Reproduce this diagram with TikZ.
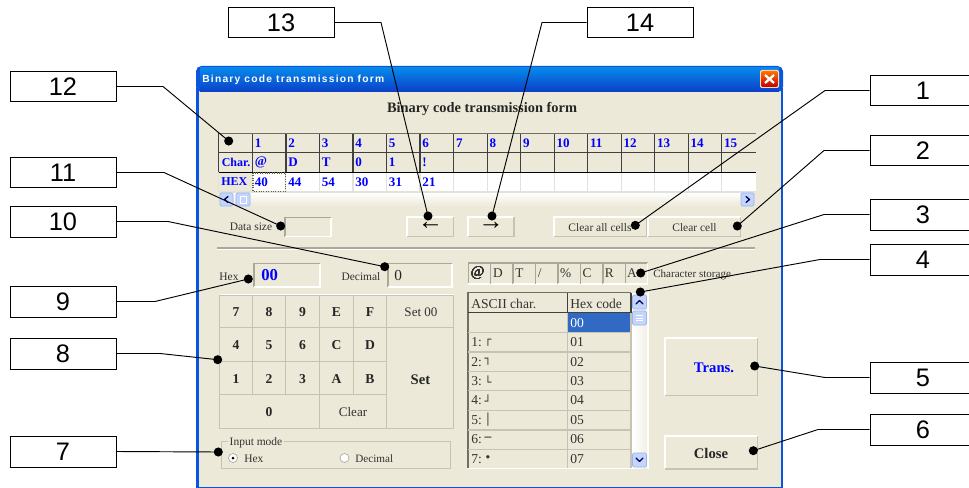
\documentclass[tikz,border=0pt]{standalone}
\usepackage{fontspec}
\setmainfont{Liberation Serif}
\newfontfamily\calloutfont{Liberation Sans}
\newfontfamily\symfont{DejaVu Sans}
\usetikzlibrary{calc}
\definecolor{winbg}{HTML}{ECE9D8}
\definecolor{xpblue}{HTML}{0A55E0}
\definecolor{xpdark}{HTML}{0A3FC8}
\definecolor{edgegray}{HTML}{ACA899}
\definecolor{softgray}{HTML}{C6C3B4}
\definecolor{celllight}{HTML}{E2E1DA}
\definecolor{darkedge}{HTML}{716F64}
\definecolor{selblue}{HTML}{316AC5}
\definecolor{scrollblue}{HTML}{C3D5FD}
\definecolor{scrolledge}{HTML}{9DB5E8}
\definecolor{linkblue}{HTML}{0000FF}
\tikzset{
  callout/.style={draw=black,line width=0.7pt,fill=white,minimum width=79.5pt,minimum height=23.2pt,inner sep=0pt,font=\calloutfont\fontsize{19}{21}\selectfont},
  pin/.style={circle,fill=black,inner sep=0pt,minimum size=6.8pt},
  lead/.style={draw=black,line width=0.7pt},
  ui/.style={inner sep=0pt,font=\fontsize{8.6}{10}\selectfont,text=black!80},
  uib/.style={inner sep=0pt,font=\bfseries\fontsize{10.2}{11}\selectfont,text=black!85},
  blueb/.style={inner sep=0pt,anchor=west,font=\bfseries\fontsize{9.8}{11}\selectfont,text=linkblue},
  listtext/.style={ui,anchor=west,font=\fontsize{10.2}{12}\selectfont},
  gridline/.style={draw=black!75,line width=0.85pt},
  keyline/.style={draw=softgray,line width=0.7pt},
  chev/.style={draw=black!65!blue,line width=1pt,line cap=round,line join=round},
  scrollbtn/.style={fill=scrollblue,draw=scrolledge,line width=0.5pt,rounded corners=1pt},
}
\newcommand{\sunkenbox}[4]{%
  \draw[edgegray,line width=0.8pt] (#1,#4)--(#1,#2)--(#3,#2);
  \draw[white,line width=0.8pt] (#3,#2)--(#3,#4)--(#1,#4);}
\newcommand{\raisedbox}[4]{%
  \draw[white,line width=0.8pt] (#1,#4)--(#1,#2)--(#3,#2);
  \draw[softgray,line width=0.8pt] (#3,#2)--(#3,#4)--(#1,#4);}
\begin{document}
\begin{tikzpicture}[x=0.75pt,y=-0.75pt]
\useasboundingbox (0,0) rectangle (969,488);
% window
\fill[winbg] (197,90) rectangle (782,488);
\path[fill=xpblue,rounded corners=4pt] (196,92) -- (196,66) -- (783,66) -- (783,92) -- cycle;
\shade[top color=xpblue!70!cyan,bottom color=xpdark] (200,68) rectangle (779,92);
\fill[xpblue] (196,88) rectangle (198.5,488);
\fill[xpblue] (780.5,88) rectangle (783,488);
\fill[xpblue] (196,486.5) rectangle (783,488);
\node[anchor=west,inner sep=0pt,text=white] (wintitle) at (202,80) {\calloutfont\bfseries\fontsize{7.7}{9}\selectfont\addfontfeature{LetterSpace=12}Binary code transmission form};
\fill[white!70!orange,rounded corners=1.5pt] (760,70) rectangle (779,88);
\shade[top color=orange!90!red,bottom color=red!75!black,rounded corners=1.5pt] (761,71) rectangle (778,87);
\draw[white,line width=1.7pt] (765,75)--(774,83) (774,75)--(765,83);
\node[uib,font=\bfseries\fontsize{10.8}{12}\selectfont] (formtitle) at (482,109) {Binary code transmission form};
% grid
\fill[winbg] (219,133.5) rectangle (755.5,172.3);
\fill[white] (219,172.3) rectangle (755.5,192);
\fill[winbg] (219,172.3) rectangle (252.3,192);
\shade[top color=white,bottom color=winbg] (233,192) rectangle (741,207);
\foreach \k in {0,...,15} {
  \draw[celllight,line width=0.8pt] ({218.9+33.52*\k},172.3) -- ({218.9+33.52*\k},192);
  \draw[gridline] ({218.9+33.52*\k},133.5) -- ({218.9+33.52*\k},172.3);
}
\draw[darkedge,line width=1pt] (218.9,133.5) -- (755.7,133.5);
\draw[gridline] (218.9,152.7) -- (755.7,152.7);
\draw[black,line width=0.9pt] (218.9,172.3) -- (755.7,172.3);
\draw[celllight,line width=0.8pt] (218.9,192) -- (755.7,192);
\foreach \t [count=\k from 1] in {1,...,15}
  \node[blueb] (hd\k) at ({218.9+33.52*\k+2.2},143) {\t};
\node[blueb,font=\bfseries\fontsize{9}{11}\selectfont] (rowchar) at (221.5,162.5) {Char.};
\node[blueb,font=\bfseries\fontsize{9}{11}\selectfont] (rowhex) at (221,182) {HEX};
\foreach \t [count=\k from 1] in {@,D,T,0,1,!}
  \node[blueb] (ch\k) at ({218.9+33.52*\k+2.2},162.5) {\t};
\foreach \t [count=\k from 1] in {40,44,54,30,31,21}
  \node[blueb] (hx\k) at ({218.9+33.52*\k+2.2},182) {\t};
\draw[black!70!yellow,densely dotted,line width=0.8pt] (253,173) rectangle (285.2,191.5);
% horizontal scroll
\path[scrollbtn] (220,193) rectangle (233,206);
\path[scrollbtn] (236,193) rectangle (250,206);
\path[scrollbtn] (741,193) rectangle (754,206);
\draw[chev] (228,196.5)--(224.5,199.5)--(228,202.5);
\draw[chev] (746,196.5)--(749.5,199.5)--(746,202.5);
\draw[white,line width=0.5pt] (240,196.5) rectangle (246,203);
% row under grid
\node[ui] (dsl) at (251,227) {Data size};
\sunkenbox{285}{217.5}{331}{236.5}
\raisedbox{407}{217}{453.5}{236.5}
\raisedbox{468}{217}{514}{236.5}
\raisedbox{554}{217}{646.5}{236.5}
\raisedbox{648}{217}{740.5}{236.5}
\node[inner sep=0pt,font=\fontsize{19}{19}\selectfont] (larr) at (430.5,226) {←};
\node[inner sep=0pt,font=\fontsize{19}{19}\selectfont] (rarr) at (491,226) {→};
\node[ui] (cac) at (600,227.5) {Clear all cells};
\node[ui] (cc) at (694.5,227.5) {Clear cell};
\draw[edgegray,line width=0.8pt] (217,248) -- (755,248);
\draw[white,line width=0.5pt] (217,249) -- (755,249);
% hex and decimal
\node[ui] (hexl) at (229,277) {Hex};
\sunkenbox{254}{263.5}{320}{287}
\node[inner sep=0pt,anchor=west,font=\bfseries\fontsize{12.5}{14}\selectfont,text=linkblue] (hexv) at (261,275.5) {00};
\node[ui] (decl) at (361,277) {Decimal};
\sunkenbox{388}{263.5}{452}{287}
\node[inner sep=0pt,anchor=west,font=\fontsize{11.5}{14}\selectfont,text=black!85] (decv) at (394,275.5) {0};
% keypad
\draw[keyline] (219.5,295) rectangle (453.5,428);
\draw[white,line width=0.6pt] (219.5,294.5) -- (453.5,294.5);
\foreach \xa/\yb/\yc in {252.4/295/394.7,285.8/295/394.7,319.6/295/428,353/295/394.7,386.8/295/428}
  \draw[keyline] (\xa,\yb) -- (\xa,\yc);
\draw[keyline] (219.5,327.8) -- (453.5,327.8);
\draw[keyline] (219.5,361.3) -- (386.8,361.3);
\draw[keyline] (219.5,394.7) -- (386.8,394.7);
\foreach \t/\xx/\yy/\nm in {7/236/312/ka,8/269/312/kb,9/302.5/312/kc,E/336.5/312/kd,F/370/312/ke,
  4/236/345/kf,5/269/345/kg,6/302.5/345/kh,C/336.5/345/ki,D/370/345/kj,
  1/236/379/kk,2/269/379/kl,3/302.5/379/km,A/336.5/379/kn,B/370/379/ko,0/269/412/kp}
  \node[uib] (\nm) at (\xx,\yy) {\t};
\node[ui,font=\fontsize{9.8}{11}\selectfont] (set00) at (421,312) {Set 00};
\node[uib,font=\bfseries\fontsize{11}{12}\selectfont] (setb) at (420.5,379.5) {Set};
\node[ui,font=\fontsize{9.8}{11}\selectfont] (clr) at (353,412) {Clear};
% input mode
\draw[softgray,line width=0.7pt] (221,441) rectangle (450.5,468.5);
\node[ui,fill=winbg,inner xsep=1.5pt] (iml) at (256,443) {Input mode};
\draw[edgegray,fill=white,line width=0.5pt] (233,458) circle[radius=4.5];
\fill[black] (233,458) circle[radius=1.5];
\node[ui,anchor=west] (rhex) at (244,458.5) {Hex};
\draw[edgegray,fill=white,line width=0.5pt] (344.5,458) circle[radius=4.5];
\node[ui,anchor=west,font=\fontsize{8.4}{10}\selectfont] (rdec) at (355,458.5) {Decimal};
% character storage
\foreach \xa in {468.3,490.7,513,535.7,558,580.7,603,625.3}
  \sunkenbox{\xa}{263}{\xa+22.2}{284}
\node[ui,anchor=west,font=\fontsize{11}{14}\selectfont] (sa) at (470.5,273.5) {@};
\foreach \t/\nm [count=\k from 1] in {D/sb,T/sc,{/}/sd,\%/se,C/sf,R/sg,A/sh}
  \node[ui,anchor=west,font=\fontsize{10}{12}\selectfont] (\nm) at ({470.5+22.35*\k},273) {\t};
\node[ui,anchor=west,font=\fontsize{8.3}{10}\selectfont] (cst) at (653,274.5) {Character storage};
% list
\draw[darkedge,line width=0.9pt] (468,468) -- (468,292.5) -- (631,292.5);
\draw[gridline] (567.8,293) -- (567.8,312.7);
\draw[gridline] (468,312.7) -- (631,312.7);
\draw[gridline] (631,293) -- (631,312.7);
\fill[selblue] (568.2,313.2) rectangle (631,332.3);
\foreach \yy in {332.7,352,371.3,390.7,410.3,430,449.3}
  \draw[softgray,line width=0.9pt] (468,\yy) -- (631,\yy);
\draw[softgray,line width=0.9pt] (567.8,313) -- (567.8,468);
\draw[softgray,line width=0.9pt] (631,313) -- (631,468);
\draw[white,line width=0.8pt] (468,468.5) -- (648,468.5) -- (648,292);
\node[listtext] (lh1) at (471,303.5) {ASCII char.};
\node[listtext] (lh2) at (570,303.5) {Hex code};
\node[listtext,text=white] (c00) at (570,323) {00};
\foreach \t/\yy [count=\k from 1] in {┌/342.5,┐/362,└/381,┘/400.5,│/420,─/439.5,•/459} {
  \node[listtext] (na\k) at (471,\yy) {\k:};
  \node[ui,font=\symfont\fontsize{8.5}{10}\selectfont] (gl\k) at (488,\yy) {\t};
  \node[listtext] (hc\k) at (570,\yy) {0\k};
}
% vertical scroll
\shade[left color=white,right color=winbg!70!white] (632,293) rectangle (647,468);
\path[scrollbtn] (632.5,295) rectangle (646.5,309);
\path[scrollbtn] (632.5,311) rectangle (646.5,325);
\path[scrollbtn] (632.5,453) rectangle (646.5,467);
\draw[chev] (636,304)--(639.5,300.5)--(643,304);
\draw[chev] (636,458)--(639.5,461.5)--(643,458);
\draw[white,line width=0.5pt] (636,315.5)--(643,315.5) (636,318)--(643,318) (636,320.5)--(643,320.5);
% buttons
\raisedbox{665}{338}{757.5}{395.5}
\raisedbox{665}{436}{757.5}{469}
\node[uib,text=linkblue,font=\bfseries\fontsize{11}{12}\selectfont] (trans) at (714,368) {Trans.};
\node[uib,font=\bfseries\fontsize{11}{12}\selectfont] (closeb) at (711,453.5) {Close};
% callouts
\foreach \nm/\xx/\yy/\t in {b13/281/22.5/13,b14/640/22.5/14,b12/63/86.5/12,b11/63/172.5/11,b10/63/221.5/10,b9/63/301.5/9,b8/63/353.5/8,b7/63/451.5/7}
  \node[callout] (\nm) at (\xx,\yy) {\t};
\foreach \nm/\yy/\t in {b1/90.5/1,b2/150.5/2,b3/214.5/3,b4/259.5/4,b5/377.5/5,b6/429.5/6}
  \node[callout,anchor=center] (\nm) at (923,\yy) {\t};
% pins
\foreach \nm/\xx/\yy in {p13/428/216,p14/492/216,p12/228.7/141,p11/280.7/226,p10/384.7/266.7,p9/248.3/279,p8/217.7/359.7,p7/218.3/452,p1/635.3/225.3,p2/737.3/226,p3/640.7/273,p4/640.3/292,p5/754.7/366,p6/753.3/450.7}
  \node[pin] (\nm) at (\xx,\yy) {};
% elbows
\foreach \nm/\xx/\yy in {e13/381/22.5,e14/542/22.5,e12/163/86.5,e11/164/172.5,e10/168/221.5,e9/155/301.5,e8/160/353.5,e1/825/90.5,e2/824/150.5,e3/824/214.5,e4/820/259.5,e5/825/377.5,e6/818/429.5}
  \coordinate (\nm) at (\xx,\yy);
\draw[lead] (b13.east) -- (e13) -- (p13.center);
\draw[lead] (b14.west) -- (e14) -- (p14.center);
\draw[lead] (b12.east) -- (e12) -- (p12.center);
\draw[lead] (b11.east) -- (e11) -- (p11.center);
\draw[lead] (b10.east) -- (e10) -- (p10.center);
\draw[lead] (b9.east) -- (e9) -- (p9.center);
\draw[lead] (b8.east) -- (e8) -- (p8.center);
\draw[lead] (b7.east) -- (p7.center);
\draw[lead] (b1.west) -- (e1) -- (p1.center);
\draw[lead] (b2.west) -- (e2) -- (p2.center);
\draw[lead] (b3.west) -- (e3) -- (p3.center);
\draw[lead] (b4.west) -- (e4) -- (p4.center);
\draw[lead] (b5.west) -- (e5) -- (p5.center);
\draw[lead] (b6.west) -- (e6) -- (p6.center);
\end{tikzpicture}
\end{document}
